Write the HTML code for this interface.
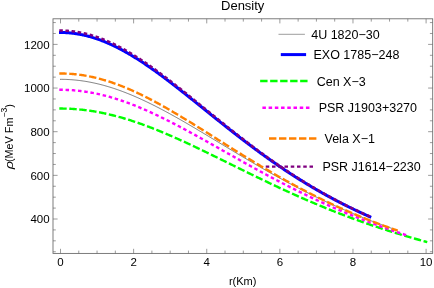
<!DOCTYPE html>
<html><head><meta charset="utf-8"><title>Density</title>
<style>
html,body{margin:0;padding:0;background:#fff;}
body{width:434px;height:288px;overflow:hidden;font-family:"Liberation Sans",sans-serif;}
svg{display:block;}
text{font-family:"Liberation Sans",sans-serif;fill:#000;}
</style></head><body>
<svg style="will-change:transform" width="434" height="288" viewBox="0 0 434 288">
<rect x="0" y="0" width="434" height="288" fill="#ffffff"/>
<g fill="none" stroke-linecap="square" stroke-linejoin="round">
<path d="M60.50 79.32 L61.33 79.32 L62.15 79.33 L62.98 79.34 L63.81 79.36 L64.64 79.38 L65.46 79.40 L66.29 79.43 L67.12 79.46 L67.94 79.50 L68.77 79.55 L69.60 79.59 L70.43 79.65 L71.25 79.70 L72.08 79.76 L72.91 79.83 L73.73 79.90 L74.56 79.97 L75.39 80.05 L76.22 80.14 L77.04 80.22 L77.87 80.32 L78.70 80.41 L79.52 80.51 L80.35 80.62 L81.18 80.73 L82.01 80.84 L82.83 80.96 L83.66 81.08 L84.49 81.21 L85.32 81.34 L86.14 81.48 L86.97 81.62 L87.80 81.76 L88.62 81.91 L89.45 82.07 L90.28 82.22 L91.11 82.39 L91.93 82.55 L92.76 82.72 L93.59 82.90 L94.41 83.08 L95.24 83.26 L96.07 83.45 L96.90 83.64 L97.72 83.83 L98.55 84.03 L99.38 84.23 L100.20 84.44 L101.03 84.65 L101.86 84.87 L102.69 85.09 L103.51 85.31 L104.34 85.54 L105.17 85.77 L105.99 86.00 L106.82 86.24 L107.65 86.49 L108.48 86.73 L109.30 86.98 L110.13 87.24 L110.96 87.49 L111.78 87.76 L112.61 88.02 L113.44 88.29 L114.27 88.56 L115.09 88.84 L115.92 89.12 L116.75 89.40 L117.57 89.69 L118.40 89.98 L119.23 90.28 L120.06 90.57 L120.88 90.88 L121.71 91.18 L122.54 91.49 L123.36 91.80 L124.19 92.11 L125.02 92.43 L125.85 92.75 L126.67 93.08 L127.50 93.41 L128.33 93.74 L129.16 94.07 L129.98 94.41 L130.81 94.75 L131.64 95.09 L132.46 95.44 L133.29 95.79 L134.12 96.14 L134.95 96.50 L135.77 96.86 L136.60 97.22 L137.43 97.58 L138.25 97.95 L139.08 98.32 L139.91 98.69 L140.74 99.07 L141.56 99.45 L142.39 99.83 L143.22 100.21 L144.04 100.60 L144.87 100.99 L145.70 101.38 L146.53 101.77 L147.35 102.17 L148.18 102.57 L149.01 102.97 L149.83 103.38 L150.66 103.78 L151.49 104.19 L152.32 104.60 L153.14 105.02 L153.97 105.43 L154.80 105.85 L155.62 106.27 L156.45 106.69 L157.28 107.12 L158.11 107.54 L158.93 107.97 L159.76 108.40 L160.59 108.83 L161.41 109.27 L162.24 109.71 L163.07 110.14 L163.90 110.58 L164.72 111.03 L165.55 111.47 L166.38 111.92 L167.20 112.36 L168.03 112.81 L168.86 113.26 L169.69 113.72 L170.51 114.17 L171.34 114.63 L172.17 115.08 L173.00 115.54 L173.82 116.00 L174.65 116.46 L175.48 116.93 L176.30 117.39 L177.13 117.86 L177.96 118.33 L178.79 118.79 L179.61 119.26 L180.44 119.74 L181.27 120.21 L182.09 120.68 L182.92 121.16 L183.75 121.63 L184.58 122.11 L185.40 122.59 L186.23 123.07 L187.06 123.55 L187.88 124.03 L188.71 124.51 L189.54 124.99 L190.37 125.48 L191.19 125.96 L192.02 126.45 L192.85 126.94 L193.67 127.42 L194.50 127.91 L195.33 128.40 L196.16 128.89 L196.98 129.38 L197.81 129.87 L198.64 130.36 L199.46 130.86 L200.29 131.35 L201.12 131.84 L201.95 132.34 L202.77 132.83 L203.60 133.33 L204.43 133.82 L205.25 134.32 L206.08 134.81 L206.91 135.31 L207.74 135.81 L208.56 136.30 L209.39 136.80 L210.22 137.30 L211.04 137.80 L211.87 138.30 L212.70 138.79 L213.53 139.29 L214.35 139.79 L215.18 140.29 L216.01 140.79 L216.84 141.29 L217.66 141.79 L218.49 142.29 L219.32 142.79 L220.14 143.29 L220.97 143.79 L221.80 144.29 L222.63 144.78 L223.45 145.28 L224.28 145.78 L225.11 146.28 L225.93 146.78 L226.76 147.28 L227.59 147.78 L228.42 148.28 L229.24 148.77 L230.07 149.27 L230.90 149.77 L231.72 150.27 L232.55 150.76 L233.38 151.26 L234.21 151.75 L235.03 152.25 L235.86 152.75 L236.69 153.24 L237.51 153.74 L238.34 154.23 L239.17 154.72 L240.00 155.22 L240.82 155.71 L241.65 156.20 L242.48 156.69 L243.30 157.18 L244.13 157.68 L244.96 158.17 L245.79 158.65 L246.61 159.14 L247.44 159.63 L248.27 160.12 L249.09 160.61 L249.92 161.09 L250.75 161.58 L251.58 162.06 L252.40 162.55 L253.23 163.03 L254.06 163.51 L254.88 164.00 L255.71 164.48 L256.54 164.96 L257.37 165.44 L258.19 165.92 L259.02 166.40 L259.85 166.87 L260.68 167.35 L261.50 167.83 L262.33 168.30 L263.16 168.77 L263.98 169.25 L264.81 169.72 L265.64 170.19 L266.47 170.66 L267.29 171.13 L268.12 171.60 L268.95 172.07 L269.77 172.53 L270.60 173.00 L271.43 173.46 L272.26 173.93 L273.08 174.39 L273.91 174.85 L274.74 175.31 L275.56 175.77 L276.39 176.23 L277.22 176.69 L278.05 177.15 L278.87 177.60 L279.70 178.06 L280.53 178.51 L281.35 178.96 L282.18 179.42 L283.01 179.87 L283.84 180.31 L284.66 180.76 L285.49 181.21 L286.32 181.66 L287.14 182.10 L287.97 182.54 L288.80 182.99 L289.63 183.43 L290.45 183.87 L291.28 184.31 L292.11 184.75 L292.93 185.18 L293.76 185.62 L294.59 186.05 L295.42 186.49 L296.24 186.92 L297.07 187.35 L297.90 187.78 L298.72 188.21 L299.55 188.63 L300.38 189.06 L301.21 189.48 L302.03 189.91 L302.86 190.33 L303.69 190.75 L304.52 191.17 L305.34 191.59 L306.17 192.01 L307.00 192.42 L307.82 192.84 L308.65 193.25 L309.48 193.67 L310.31 194.08 L311.13 194.49 L311.96 194.90 L312.79 195.30 L313.61 195.71 L314.44 196.11 L315.27 196.52 L316.10 196.92 L316.92 197.32 L317.75 197.72 L318.58 198.12 L319.40 198.52 L320.23 198.91 L321.06 199.31 L321.89 199.70 L322.71 200.09 L323.54 200.48 L324.37 200.87 L325.19 201.26 L326.02 201.65 L326.85 202.03 L327.68 202.42 L328.50 202.80 L329.33 203.18 L330.16 203.57 L330.98 203.94 L331.81 204.32 L332.64 204.70 L333.47 205.07 L334.29 205.45 L335.12 205.82 L335.95 206.19 L336.77 206.56 L337.60 206.93 L338.43 207.30 L339.26 207.67 L340.08 208.03 L340.91 208.40 L341.74 208.76 L342.56 209.12 L343.39 209.48 L344.22 209.84 L345.05 210.20 L345.87 210.55 L346.70 210.91 L347.53 211.26 L348.36 211.61 L349.18 211.96 L350.01 212.31 L350.84 212.66 L351.66 213.01 L352.49 213.35 L353.32 213.70 L354.15 214.04 L354.97 214.38 L355.80 214.72 L356.63 215.06 L357.45 215.40 L358.28 215.74 L359.11 216.07 L359.94 216.41 L360.76 216.74 L361.59 217.07 L362.42 217.40 L363.24 217.73 L364.07 218.06 L364.90 218.39 L365.73 218.71 L366.55 219.04 L367.38 219.36 L368.21 219.68 L369.03 220.00 L369.86 220.32 L370.69 220.64 L371.52 220.96 L372.34 221.28 L373.17 221.59 L374.00 221.90 L374.82 222.21 L375.65 222.53 L376.48 222.84 L377.31 223.14 L378.13 223.45 L378.96 223.76 L379.79 224.06 L380.61 224.37 L381.44 224.67 L382.27 224.97 L383.10 225.27 L383.92 225.57 L384.75 225.87 L385.58 226.16 L386.40 226.46 L387.23 226.75 L388.06 227.04 L388.89 227.34 L389.71 227.63 L390.54 227.92 L391.37 228.20" stroke="#404040" stroke-width="0.7"/>
<path d="M60.50 32.51 L61.27 32.51 L62.05 32.52 L62.82 32.53 L63.59 32.55 L64.37 32.58 L65.14 32.61 L65.91 32.65 L66.69 32.69 L67.46 32.74 L68.23 32.80 L69.01 32.86 L69.78 32.93 L70.55 33.00 L71.33 33.08 L72.10 33.16 L72.87 33.25 L73.65 33.35 L74.42 33.45 L75.19 33.56 L75.96 33.67 L76.74 33.79 L77.51 33.91 L78.28 34.04 L79.06 34.18 L79.83 34.32 L80.60 34.47 L81.38 34.62 L82.15 34.78 L82.92 34.95 L83.70 35.12 L84.47 35.29 L85.24 35.47 L86.02 35.66 L86.79 35.85 L87.56 36.05 L88.34 36.25 L89.11 36.46 L89.88 36.67 L90.66 36.89 L91.43 37.12 L92.20 37.35 L92.98 37.58 L93.75 37.82 L94.52 38.07 L95.30 38.32 L96.07 38.58 L96.84 38.84 L97.62 39.10 L98.39 39.38 L99.16 39.65 L99.94 39.93 L100.71 40.22 L101.48 40.51 L102.26 40.81 L103.03 41.11 L103.80 41.42 L104.57 41.73 L105.35 42.05 L106.12 42.37 L106.89 42.70 L107.67 43.03 L108.44 43.37 L109.21 43.71 L109.99 44.05 L110.76 44.40 L111.53 44.76 L112.31 45.12 L113.08 45.48 L113.85 45.85 L114.63 46.22 L115.40 46.60 L116.17 46.98 L116.95 47.37 L117.72 47.76 L118.49 48.15 L119.27 48.55 L120.04 48.96 L120.81 49.37 L121.59 49.78 L122.36 50.19 L123.13 50.61 L123.91 51.04 L124.68 51.47 L125.45 51.90 L126.23 52.33 L127.00 52.77 L127.77 53.22 L128.55 53.66 L129.32 54.12 L130.09 54.57 L130.87 55.03 L131.64 55.49 L132.41 55.96 L133.18 56.43 L133.96 56.90 L134.73 57.38 L135.50 57.86 L136.28 58.34 L137.05 58.82 L137.82 59.31 L138.60 59.81 L139.37 60.30 L140.14 60.80 L140.92 61.31 L141.69 61.81 L142.46 62.32 L143.24 62.83 L144.01 63.35 L144.78 63.87 L145.56 64.39 L146.33 64.91 L147.10 65.44 L147.88 65.96 L148.65 66.50 L149.42 67.03 L150.20 67.57 L150.97 68.11 L151.74 68.65 L152.52 69.19 L153.29 69.74 L154.06 70.29 L154.84 70.84 L155.61 71.40 L156.38 71.95 L157.16 72.51 L157.93 73.07 L158.70 73.64 L159.48 74.20 L160.25 74.77 L161.02 75.34 L161.79 75.91 L162.57 76.48 L163.34 77.06 L164.11 77.64 L164.89 78.21 L165.66 78.80 L166.43 79.38 L167.21 79.96 L167.98 80.55 L168.75 81.14 L169.53 81.72 L170.30 82.32 L171.07 82.91 L171.85 83.50 L172.62 84.10 L173.39 84.69 L174.17 85.29 L174.94 85.89 L175.71 86.49 L176.49 87.09 L177.26 87.70 L178.03 88.30 L178.81 88.91 L179.58 89.51 L180.35 90.12 L181.13 90.73 L181.90 91.34 L182.67 91.95 L183.45 92.56 L184.22 93.17 L184.99 93.78 L185.77 94.40 L186.54 95.01 L187.31 95.63 L188.09 96.24 L188.86 96.86 L189.63 97.48 L190.40 98.09 L191.18 98.71 L191.95 99.33 L192.72 99.95 L193.50 100.57 L194.27 101.19 L195.04 101.81 L195.82 102.43 L196.59 103.05 L197.36 103.68 L198.14 104.30 L198.91 104.92 L199.68 105.54 L200.46 106.17 L201.23 106.79 L202.00 107.41 L202.78 108.03 L203.55 108.66 L204.32 109.28 L205.10 109.90 L205.87 110.53 L206.64 111.15 L207.42 111.77 L208.19 112.39 L208.96 113.02 L209.74 113.64 L210.51 114.26 L211.28 114.88 L212.06 115.50 L212.83 116.12 L213.60 116.75 L214.38 117.37 L215.15 117.99 L215.92 118.61 L216.70 119.23 L217.47 119.84 L218.24 120.46 L219.02 121.08 L219.79 121.70 L220.56 122.32 L221.33 122.93 L222.11 123.55 L222.88 124.16 L223.65 124.78 L224.43 125.39 L225.20 126.00 L225.97 126.62 L226.75 127.23 L227.52 127.84 L228.29 128.45 L229.07 129.06 L229.84 129.67 L230.61 130.28 L231.39 130.88 L232.16 131.49 L232.93 132.10 L233.71 132.70 L234.48 133.30 L235.25 133.91 L236.03 134.51 L236.80 135.11 L237.57 135.71 L238.35 136.31 L239.12 136.90 L239.89 137.50 L240.67 138.10 L241.44 138.69 L242.21 139.28 L242.99 139.88 L243.76 140.47 L244.53 141.06 L245.31 141.65 L246.08 142.24 L246.85 142.82 L247.63 143.41 L248.40 143.99 L249.17 144.57 L249.94 145.16 L250.72 145.74 L251.49 146.32 L252.26 146.89 L253.04 147.47 L253.81 148.05 L254.58 148.62 L255.36 149.19 L256.13 149.77 L256.90 150.34 L257.68 150.90 L258.45 151.47 L259.22 152.04 L260.00 152.60 L260.77 153.17 L261.54 153.73 L262.32 154.29 L263.09 154.85 L263.86 155.41 L264.64 155.96 L265.41 156.52 L266.18 157.07 L266.96 157.62 L267.73 158.17 L268.50 158.72 L269.28 159.27 L270.05 159.81 L270.82 160.36 L271.60 160.90 L272.37 161.44 L273.14 161.98 L273.92 162.52 L274.69 163.06 L275.46 163.59 L276.24 164.13 L277.01 164.66 L277.78 165.19 L278.55 165.72 L279.33 166.25 L280.10 166.77 L280.87 167.30 L281.65 167.82 L282.42 168.34 L283.19 168.86 L283.97 169.38 L284.74 169.89 L285.51 170.41 L286.29 170.92 L287.06 171.43 L287.83 171.94 L288.61 172.45 L289.38 172.96 L290.15 173.46 L290.93 173.97 L291.70 174.47 L292.47 174.97 L293.25 175.47 L294.02 175.96 L294.79 176.46 L295.57 176.95 L296.34 177.44 L297.11 177.93 L297.89 178.42 L298.66 178.91 L299.43 179.39 L300.21 179.88 L300.98 180.36 L301.75 180.84 L302.53 181.32 L303.30 181.80 L304.07 182.27 L304.85 182.74 L305.62 183.22 L306.39 183.69 L307.16 184.15 L307.94 184.62 L308.71 185.09 L309.48 185.55 L310.26 186.01 L311.03 186.47 L311.80 186.93 L312.58 187.39 L313.35 187.84 L314.12 188.30 L314.90 188.75 L315.67 189.20 L316.44 189.65 L317.22 190.09 L317.99 190.54 L318.76 190.98 L319.54 191.42 L320.31 191.86 L321.08 192.30 L321.86 192.74 L322.63 193.18 L323.40 193.61 L324.18 194.04 L324.95 194.47 L325.72 194.90 L326.50 195.33 L327.27 195.75 L328.04 196.18 L328.82 196.60 L329.59 197.02 L330.36 197.44 L331.14 197.86 L331.91 198.27 L332.68 198.69 L333.46 199.10 L334.23 199.51 L335.00 199.92 L335.77 200.33 L336.55 200.73 L337.32 201.14 L338.09 201.54 L338.87 201.94 L339.64 202.34 L340.41 202.74 L341.19 203.13 L341.96 203.53 L342.73 203.92 L343.51 204.31 L344.28 204.70 L345.05 205.09 L345.83 205.48 L346.60 205.86 L347.37 206.25 L348.15 206.63 L348.92 207.01 L349.69 207.39 L350.47 207.77 L351.24 208.14 L352.01 208.52 L352.79 208.89 L353.56 209.26 L354.33 209.63 L355.11 210.00 L355.88 210.37 L356.65 210.73 L357.43 211.09 L358.20 211.46 L358.97 211.82 L359.75 212.18 L360.52 212.53 L361.29 212.89 L362.07 213.25 L362.84 213.60 L363.61 213.95 L364.38 214.30 L365.16 214.65 L365.93 215.00 L366.70 215.34 L367.48 215.69 L368.25 216.03 L369.02 216.37 L369.80 216.71" stroke="#0000ff" stroke-width="3.0"/>
<path d="M60.50 108.57 L61.41 108.57 L62.33 108.57 L63.24 108.58 L64.16 108.60 L65.07 108.62 L65.98 108.64 L66.90 108.67 L67.81 108.70 L68.73 108.74 L69.64 108.78 L70.55 108.82 L71.47 108.87 L72.38 108.92 L73.30 108.98 L74.21 109.04 L75.12 109.11 L76.04 109.18 L76.95 109.25 L77.87 109.33 L78.78 109.41 L79.69 109.50 L80.61 109.59 L81.52 109.68 L82.44 109.78 L83.35 109.88 L84.26 109.99 L85.18 110.10 L86.09 110.21 L87.01 110.33 L87.92 110.46 L88.83 110.58 L89.75 110.71 L90.66 110.85 L91.58 110.99 L92.49 111.13 L93.40 111.28 L94.32 111.43 L95.23 111.58 L96.15 111.74 L97.06 111.91 L97.97 112.07 L98.89 112.24 L99.80 112.42 L100.72 112.59 L101.63 112.78 L102.54 112.96 L103.46 113.15 L104.37 113.34 L105.29 113.54 L106.20 113.74 L107.11 113.95 L108.03 114.15 L108.94 114.37 L109.86 114.58 L110.77 114.80 L111.68 115.02 L112.60 115.25 L113.51 115.48 L114.43 115.71 L115.34 115.95 L116.25 116.19 L117.17 116.43 L118.08 116.68 L119.00 116.93 L119.91 117.18 L120.82 117.44 L121.74 117.70 L122.65 117.96 L123.57 118.23 L124.48 118.50 L125.39 118.77 L126.31 119.05 L127.22 119.33 L128.14 119.61 L129.05 119.90 L129.96 120.19 L130.88 120.48 L131.79 120.78 L132.71 121.07 L133.62 121.38 L134.53 121.68 L135.45 121.99 L136.36 122.30 L137.28 122.61 L138.19 122.93 L139.10 123.24 L140.02 123.57 L140.93 123.89 L141.85 124.22 L142.76 124.55 L143.67 124.88 L144.59 125.21 L145.50 125.55 L146.42 125.89 L147.33 126.23 L148.24 126.58 L149.16 126.92 L150.07 127.27 L150.99 127.63 L151.90 127.98 L152.81 128.34 L153.73 128.70 L154.64 129.06 L155.56 129.42 L156.47 129.79 L157.38 130.16 L158.30 130.53 L159.21 130.90 L160.13 131.28 L161.04 131.65 L161.95 132.03 L162.87 132.41 L163.78 132.79 L164.70 133.18 L165.61 133.57 L166.52 133.96 L167.44 134.35 L168.35 134.74 L169.27 135.13 L170.18 135.53 L171.09 135.93 L172.01 136.33 L172.92 136.73 L173.84 137.13 L174.75 137.53 L175.66 137.94 L176.58 138.35 L177.49 138.76 L178.41 139.17 L179.32 139.58 L180.23 139.99 L181.15 140.41 L182.06 140.83 L182.98 141.24 L183.89 141.66 L184.80 142.08 L185.72 142.50 L186.63 142.93 L187.55 143.35 L188.46 143.78 L189.37 144.20 L190.29 144.63 L191.20 145.06 L192.12 145.49 L193.03 145.92 L193.94 146.35 L194.86 146.78 L195.77 147.22 L196.69 147.65 L197.60 148.09 L198.51 148.52 L199.43 148.96 L200.34 149.40 L201.26 149.84 L202.17 150.28 L203.08 150.72 L204.00 151.16 L204.91 151.60 L205.83 152.04 L206.74 152.48 L207.65 152.93 L208.57 153.37 L209.48 153.82 L210.40 154.26 L211.31 154.71 L212.22 155.15 L213.14 155.60 L214.05 156.05 L214.97 156.49 L215.88 156.94 L216.79 157.39 L217.71 157.84 L218.62 158.29 L219.54 158.74 L220.45 159.19 L221.36 159.64 L222.28 160.09 L223.19 160.54 L224.11 160.99 L225.02 161.44 L225.93 161.89 L226.85 162.34 L227.76 162.79 L228.68 163.24 L229.59 163.69 L230.50 164.14 L231.42 164.59 L232.33 165.04 L233.25 165.49 L234.16 165.94 L235.07 166.39 L235.99 166.84 L236.90 167.29 L237.82 167.74 L238.73 168.19 L239.64 168.64 L240.56 169.09 L241.47 169.54 L242.39 169.99 L243.30 170.43 L244.21 170.88 L245.13 171.33 L246.04 171.78 L246.96 172.23 L247.87 172.67 L248.78 173.12 L249.70 173.57 L250.61 174.01 L251.53 174.46 L252.44 174.90 L253.35 175.35 L254.27 175.79 L255.18 176.23 L256.10 176.68 L257.01 177.12 L257.92 177.56 L258.84 178.00 L259.75 178.44 L260.67 178.88 L261.58 179.32 L262.49 179.76 L263.41 180.20 L264.32 180.64 L265.24 181.07 L266.15 181.51 L267.06 181.95 L267.98 182.38 L268.89 182.81 L269.81 183.25 L270.72 183.68 L271.63 184.11 L272.55 184.54 L273.46 184.97 L274.38 185.40 L275.29 185.83 L276.20 186.26 L277.12 186.69 L278.03 187.12 L278.95 187.54 L279.86 187.97 L280.77 188.39 L281.69 188.81 L282.60 189.24 L283.52 189.66 L284.43 190.08 L285.34 190.50 L286.26 190.92 L287.17 191.33 L288.09 191.75 L289.00 192.17 L289.91 192.58 L290.83 193.00 L291.74 193.41 L292.66 193.82 L293.57 194.23 L294.48 194.64 L295.40 195.05 L296.31 195.46 L297.23 195.87 L298.14 196.27 L299.05 196.68 L299.97 197.08 L300.88 197.48 L301.80 197.89 L302.71 198.29 L303.62 198.69 L304.54 199.08 L305.45 199.48 L306.37 199.88 L307.28 200.27 L308.19 200.67 L309.11 201.06 L310.02 201.45 L310.94 201.85 L311.85 202.24 L312.76 202.62 L313.68 203.01 L314.59 203.40 L315.51 203.78 L316.42 204.17 L317.33 204.55 L318.25 204.93 L319.16 205.32 L320.08 205.70 L320.99 206.07 L321.90 206.45 L322.82 206.83 L323.73 207.20 L324.65 207.58 L325.56 207.95 L326.47 208.32 L327.39 208.69 L328.30 209.06 L329.22 209.43 L330.13 209.80 L331.04 210.16 L331.96 210.53 L332.87 210.89 L333.79 211.25 L334.70 211.62 L335.61 211.98 L336.53 212.33 L337.44 212.69 L338.36 213.05 L339.27 213.40 L340.18 213.76 L341.10 214.11 L342.01 214.46 L342.93 214.81 L343.84 215.16 L344.75 215.51 L345.67 215.86 L346.58 216.20 L347.50 216.55 L348.41 216.89 L349.32 217.23 L350.24 217.57 L351.15 217.91 L352.07 218.25 L352.98 218.59 L353.89 218.92 L354.81 219.26 L355.72 219.59 L356.64 219.92 L357.55 220.25 L358.46 220.58 L359.38 220.91 L360.29 221.24 L361.21 221.57 L362.12 221.89 L363.03 222.21 L363.95 222.54 L364.86 222.86 L365.78 223.18 L366.69 223.50 L367.60 223.82 L368.52 224.13 L369.43 224.45 L370.35 224.76 L371.26 225.08 L372.17 225.39 L373.09 225.70 L374.00 226.01 L374.92 226.32 L375.83 226.62 L376.74 226.93 L377.66 227.23 L378.57 227.54 L379.49 227.84 L380.40 228.14 L381.31 228.44 L382.23 228.74 L383.14 229.04 L384.06 229.33 L384.97 229.63 L385.88 229.92 L386.80 230.22 L387.71 230.51 L388.63 230.80 L389.54 231.09 L390.45 231.38 L391.37 231.66 L392.28 231.95 L393.20 232.23 L394.11 232.52 L395.02 232.80 L395.94 233.08 L396.85 233.36 L397.77 233.64 L398.68 233.92 L399.59 234.20 L400.51 234.47 L401.42 234.75 L402.34 235.02 L403.25 235.29 L404.16 235.56 L405.08 235.83 L405.99 236.10 L406.91 236.37 L407.82 236.64 L408.73 236.90 L409.65 237.17 L410.56 237.43 L411.48 237.69 L412.39 237.96 L413.30 238.22 L414.22 238.48 L415.13 238.73 L416.05 238.99 L416.96 239.25 L417.87 239.50 L418.79 239.75 L419.70 240.01 L420.62 240.26 L421.53 240.51 L422.44 240.76 L423.36 241.01 L424.27 241.26 L425.19 241.50 L426.10 241.75" stroke="#00ff00" stroke-width="2.4" stroke-dasharray="5.000 4.999"/>
<path d="M60.50 89.80 L61.36 89.80 L62.23 89.81 L63.09 89.82 L63.96 89.83 L64.82 89.85 L65.69 89.88 L66.55 89.91 L67.42 89.94 L68.28 89.98 L69.15 90.02 L70.01 90.07 L70.88 90.12 L71.74 90.18 L72.61 90.24 L73.47 90.31 L74.33 90.38 L75.20 90.45 L76.06 90.53 L76.93 90.61 L77.79 90.70 L78.66 90.79 L79.52 90.89 L80.39 90.99 L81.25 91.10 L82.12 91.21 L82.98 91.32 L83.85 91.44 L84.71 91.56 L85.57 91.69 L86.44 91.82 L87.30 91.96 L88.17 92.10 L89.03 92.25 L89.90 92.39 L90.76 92.55 L91.63 92.71 L92.49 92.87 L93.36 93.03 L94.22 93.20 L95.09 93.38 L95.95 93.56 L96.82 93.74 L97.68 93.93 L98.54 94.12 L99.41 94.31 L100.27 94.51 L101.14 94.72 L102.00 94.92 L102.87 95.13 L103.73 95.35 L104.60 95.57 L105.46 95.79 L106.33 96.02 L107.19 96.25 L108.06 96.49 L108.92 96.72 L109.78 96.97 L110.65 97.21 L111.51 97.46 L112.38 97.72 L113.24 97.98 L114.11 98.24 L114.97 98.50 L115.84 98.77 L116.70 99.04 L117.57 99.32 L118.43 99.60 L119.30 99.88 L120.16 100.17 L121.03 100.46 L121.89 100.75 L122.75 101.05 L123.62 101.35 L124.48 101.66 L125.35 101.96 L126.21 102.27 L127.08 102.59 L127.94 102.90 L128.81 103.22 L129.67 103.55 L130.54 103.88 L131.40 104.21 L132.27 104.54 L133.13 104.88 L133.99 105.21 L134.86 105.56 L135.72 105.90 L136.59 106.25 L137.45 106.60 L138.32 106.96 L139.18 107.31 L140.05 107.67 L140.91 108.04 L141.78 108.40 L142.64 108.77 L143.51 109.14 L144.37 109.51 L145.24 109.89 L146.10 110.27 L146.96 110.65 L147.83 111.04 L148.69 111.42 L149.56 111.81 L150.42 112.20 L151.29 112.60 L152.15 112.99 L153.02 113.39 L153.88 113.79 L154.75 114.20 L155.61 114.60 L156.48 115.01 L157.34 115.42 L158.20 115.83 L159.07 116.25 L159.93 116.67 L160.80 117.08 L161.66 117.51 L162.53 117.93 L163.39 118.35 L164.26 118.78 L165.12 119.21 L165.99 119.64 L166.85 120.07 L167.72 120.51 L168.58 120.94 L169.45 121.38 L170.31 121.82 L171.17 122.26 L172.04 122.70 L172.90 123.15 L173.77 123.59 L174.63 124.04 L175.50 124.49 L176.36 124.94 L177.23 125.39 L178.09 125.85 L178.96 126.30 L179.82 126.76 L180.69 127.22 L181.55 127.67 L182.41 128.13 L183.28 128.60 L184.14 129.06 L185.01 129.52 L185.87 129.99 L186.74 130.45 L187.60 130.92 L188.47 131.39 L189.33 131.86 L190.20 132.33 L191.06 132.80 L191.93 133.27 L192.79 133.75 L193.66 134.22 L194.52 134.70 L195.38 135.17 L196.25 135.65 L197.11 136.13 L197.98 136.60 L198.84 137.08 L199.71 137.56 L200.57 138.04 L201.44 138.52 L202.30 139.00 L203.17 139.49 L204.03 139.97 L204.90 140.45 L205.76 140.94 L206.62 141.42 L207.49 141.90 L208.35 142.39 L209.22 142.88 L210.08 143.36 L210.95 143.85 L211.81 144.33 L212.68 144.82 L213.54 145.31 L214.41 145.79 L215.27 146.28 L216.14 146.77 L217.00 147.26 L217.87 147.75 L218.73 148.23 L219.59 148.72 L220.46 149.21 L221.32 149.70 L222.19 150.19 L223.05 150.68 L223.92 151.16 L224.78 151.65 L225.65 152.14 L226.51 152.63 L227.38 153.12 L228.24 153.60 L229.11 154.09 L229.97 154.58 L230.83 155.07 L231.70 155.56 L232.56 156.04 L233.43 156.53 L234.29 157.02 L235.16 157.50 L236.02 157.99 L236.89 158.47 L237.75 158.96 L238.62 159.44 L239.48 159.93 L240.35 160.41 L241.21 160.90 L242.08 161.38 L242.94 161.86 L243.80 162.35 L244.67 162.83 L245.53 163.31 L246.40 163.79 L247.26 164.27 L248.13 164.75 L248.99 165.23 L249.86 165.71 L250.72 166.19 L251.59 166.66 L252.45 167.14 L253.32 167.62 L254.18 168.09 L255.04 168.57 L255.91 169.04 L256.77 169.52 L257.64 169.99 L258.50 170.46 L259.37 170.93 L260.23 171.40 L261.10 171.87 L261.96 172.34 L262.83 172.81 L263.69 173.28 L264.56 173.75 L265.42 174.21 L266.29 174.68 L267.15 175.14 L268.01 175.60 L268.88 176.07 L269.74 176.53 L270.61 176.99 L271.47 177.45 L272.34 177.91 L273.20 178.37 L274.07 178.82 L274.93 179.28 L275.80 179.73 L276.66 180.19 L277.53 180.64 L278.39 181.09 L279.25 181.54 L280.12 181.99 L280.98 182.44 L281.85 182.89 L282.71 183.34 L283.58 183.79 L284.44 184.23 L285.31 184.67 L286.17 185.12 L287.04 185.56 L287.90 186.00 L288.77 186.44 L289.63 186.88 L290.50 187.32 L291.36 187.75 L292.22 188.19 L293.09 188.62 L293.95 189.06 L294.82 189.49 L295.68 189.92 L296.55 190.35 L297.41 190.78 L298.28 191.21 L299.14 191.63 L300.01 192.06 L300.87 192.48 L301.74 192.90 L302.60 193.33 L303.46 193.75 L304.33 194.17 L305.19 194.58 L306.06 195.00 L306.92 195.42 L307.79 195.83 L308.65 196.24 L309.52 196.66 L310.38 197.07 L311.25 197.48 L312.11 197.89 L312.98 198.29 L313.84 198.70 L314.71 199.10 L315.57 199.51 L316.43 199.91 L317.30 200.31 L318.16 200.71 L319.03 201.11 L319.89 201.51 L320.76 201.91 L321.62 202.30 L322.49 202.69 L323.35 203.09 L324.22 203.48 L325.08 203.87 L325.95 204.26 L326.81 204.65 L327.67 205.03 L328.54 205.42 L329.40 205.80 L330.27 206.18 L331.13 206.57 L332.00 206.95 L332.86 207.32 L333.73 207.70 L334.59 208.08 L335.46 208.45 L336.32 208.83 L337.19 209.20 L338.05 209.57 L338.92 209.94 L339.78 210.31 L340.64 210.68 L341.51 211.05 L342.37 211.41 L343.24 211.78 L344.10 212.14 L344.97 212.50 L345.83 212.86 L346.70 213.22 L347.56 213.58 L348.43 213.93 L349.29 214.29 L350.16 214.64 L351.02 215.00 L351.89 215.35 L352.75 215.70 L353.61 216.05 L354.48 216.40 L355.34 216.74 L356.21 217.09 L357.07 217.43 L357.94 217.78 L358.80 218.12 L359.67 218.46 L360.53 218.80 L361.40 219.14 L362.26 219.48 L363.13 219.81 L363.99 220.15 L364.85 220.48 L365.72 220.81 L366.58 221.14 L367.45 221.47 L368.31 221.80 L369.18 222.13 L370.04 222.46 L370.91 222.78 L371.77 223.11 L372.64 223.43 L373.50 223.75 L374.37 224.07 L375.23 224.39 L376.10 224.71 L376.96 225.03 L377.82 225.34 L378.69 225.66 L379.55 225.97 L380.42 226.28 L381.28 226.59 L382.15 226.91 L383.01 227.21 L383.88 227.52 L384.74 227.83 L385.61 228.14 L386.47 228.44 L387.34 228.74 L388.20 229.05 L389.06 229.35 L389.93 229.65 L390.79 229.95 L391.66 230.25 L392.52 230.54 L393.39 230.84 L394.25 231.13 L395.12 231.43 L395.98 231.72 L396.85 232.01 L397.71 232.30 L398.58 232.59 L399.44 232.88 L400.31 233.17 L401.17 233.45 L402.03 233.74 L402.90 234.02 L403.76 234.31 L404.63 234.59 L405.49 234.87 L406.36 235.15" stroke="#ff00ff" stroke-width="2.4" stroke-dasharray="1.100 5.156"/>
<path d="M60.50 73.49 L61.34 73.50 L62.18 73.50 L63.02 73.52 L63.86 73.53 L64.70 73.55 L65.54 73.58 L66.38 73.61 L67.22 73.65 L68.06 73.69 L68.90 73.74 L69.74 73.79 L70.58 73.85 L71.42 73.91 L72.26 73.98 L73.10 74.05 L73.94 74.13 L74.78 74.21 L75.62 74.30 L76.46 74.39 L77.30 74.49 L78.15 74.59 L78.99 74.69 L79.83 74.80 L80.67 74.92 L81.51 75.04 L82.35 75.17 L83.19 75.30 L84.03 75.43 L84.87 75.57 L85.71 75.72 L86.55 75.87 L87.39 76.02 L88.23 76.18 L89.07 76.34 L89.91 76.51 L90.75 76.68 L91.59 76.86 L92.43 77.04 L93.27 77.23 L94.11 77.42 L94.95 77.62 L95.79 77.82 L96.63 78.02 L97.47 78.23 L98.31 78.44 L99.15 78.66 L99.99 78.89 L100.83 79.11 L101.67 79.34 L102.51 79.58 L103.35 79.82 L104.19 80.07 L105.03 80.31 L105.87 80.57 L106.71 80.83 L107.55 81.09 L108.39 81.35 L109.23 81.62 L110.07 81.90 L110.91 82.18 L111.75 82.46 L112.59 82.74 L113.44 83.03 L114.28 83.33 L115.12 83.63 L115.96 83.93 L116.80 84.24 L117.64 84.55 L118.48 84.86 L119.32 85.18 L120.16 85.50 L121.00 85.82 L121.84 86.15 L122.68 86.49 L123.52 86.82 L124.36 87.16 L125.20 87.51 L126.04 87.85 L126.88 88.20 L127.72 88.56 L128.56 88.92 L129.40 89.28 L130.24 89.64 L131.08 90.01 L131.92 90.38 L132.76 90.76 L133.60 91.13 L134.44 91.52 L135.28 91.90 L136.12 92.29 L136.96 92.68 L137.80 93.07 L138.64 93.47 L139.48 93.87 L140.32 94.27 L141.16 94.68 L142.00 95.08 L142.84 95.50 L143.68 95.91 L144.52 96.33 L145.36 96.75 L146.20 97.17 L147.04 97.60 L147.88 98.02 L148.73 98.45 L149.57 98.89 L150.41 99.32 L151.25 99.76 L152.09 100.20 L152.93 100.65 L153.77 101.09 L154.61 101.54 L155.45 101.99 L156.29 102.44 L157.13 102.90 L157.97 103.36 L158.81 103.81 L159.65 104.28 L160.49 104.74 L161.33 105.21 L162.17 105.67 L163.01 106.14 L163.85 106.62 L164.69 107.09 L165.53 107.57 L166.37 108.04 L167.21 108.52 L168.05 109.00 L168.89 109.49 L169.73 109.97 L170.57 110.46 L171.41 110.95 L172.25 111.44 L173.09 111.93 L173.93 112.42 L174.77 112.92 L175.61 113.41 L176.45 113.91 L177.29 114.41 L178.13 114.91 L178.97 115.41 L179.81 115.91 L180.65 116.42 L181.49 116.92 L182.33 117.43 L183.18 117.94 L184.02 118.45 L184.86 118.96 L185.70 119.47 L186.54 119.98 L187.38 120.49 L188.22 121.01 L189.06 121.52 L189.90 122.04 L190.74 122.56 L191.58 123.07 L192.42 123.59 L193.26 124.11 L194.10 124.63 L194.94 125.15 L195.78 125.68 L196.62 126.20 L197.46 126.72 L198.30 127.24 L199.14 127.77 L199.98 128.29 L200.82 128.82 L201.66 129.35 L202.50 129.87 L203.34 130.40 L204.18 130.93 L205.02 131.45 L205.86 131.98 L206.70 132.51 L207.54 133.04 L208.38 133.57 L209.22 134.10 L210.06 134.63 L210.90 135.16 L211.74 135.69 L212.58 136.21 L213.42 136.74 L214.26 137.27 L215.10 137.80 L215.94 138.34 L216.78 138.87 L217.62 139.40 L218.47 139.93 L219.31 140.46 L220.15 140.99 L220.99 141.52 L221.83 142.04 L222.67 142.57 L223.51 143.10 L224.35 143.63 L225.19 144.16 L226.03 144.69 L226.87 145.22 L227.71 145.75 L228.55 146.27 L229.39 146.80 L230.23 147.33 L231.07 147.86 L231.91 148.38 L232.75 148.91 L233.59 149.43 L234.43 149.96 L235.27 150.48 L236.11 151.01 L236.95 151.53 L237.79 152.05 L238.63 152.58 L239.47 153.10 L240.31 153.62 L241.15 154.14 L241.99 154.66 L242.83 155.18 L243.67 155.70 L244.51 156.22 L245.35 156.73 L246.19 157.25 L247.03 157.77 L247.87 158.28 L248.71 158.79 L249.55 159.31 L250.39 159.82 L251.23 160.33 L252.07 160.84 L252.92 161.35 L253.76 161.86 L254.60 162.37 L255.44 162.88 L256.28 163.39 L257.12 163.89 L257.96 164.40 L258.80 164.90 L259.64 165.40 L260.48 165.91 L261.32 166.41 L262.16 166.91 L263.00 167.41 L263.84 167.90 L264.68 168.40 L265.52 168.90 L266.36 169.39 L267.20 169.89 L268.04 170.38 L268.88 170.87 L269.72 171.36 L270.56 171.85 L271.40 172.34 L272.24 172.83 L273.08 173.31 L273.92 173.80 L274.76 174.28 L275.60 174.76 L276.44 175.25 L277.28 175.73 L278.12 176.21 L278.96 176.68 L279.80 177.16 L280.64 177.64 L281.48 178.11 L282.32 178.58 L283.16 179.06 L284.00 179.53 L284.84 180.00 L285.68 180.46 L286.52 180.93 L287.36 181.40 L288.21 181.86 L289.05 182.32 L289.89 182.79 L290.73 183.25 L291.57 183.70 L292.41 184.16 L293.25 184.62 L294.09 185.07 L294.93 185.53 L295.77 185.98 L296.61 186.43 L297.45 186.88 L298.29 187.33 L299.13 187.78 L299.97 188.22 L300.81 188.67 L301.65 189.11 L302.49 189.55 L303.33 189.99 L304.17 190.43 L305.01 190.87 L305.85 191.31 L306.69 191.74 L307.53 192.17 L308.37 192.61 L309.21 193.04 L310.05 193.47 L310.89 193.90 L311.73 194.32 L312.57 194.75 L313.41 195.17 L314.25 195.59 L315.09 196.01 L315.93 196.43 L316.77 196.85 L317.61 197.27 L318.45 197.68 L319.29 198.10 L320.13 198.51 L320.97 198.92 L321.81 199.33 L322.65 199.74 L323.50 200.15 L324.34 200.55 L325.18 200.96 L326.02 201.36 L326.86 201.76 L327.70 202.16 L328.54 202.56 L329.38 202.95 L330.22 203.35 L331.06 203.74 L331.90 204.14 L332.74 204.53 L333.58 204.92 L334.42 205.31 L335.26 205.69 L336.10 206.08 L336.94 206.46 L337.78 206.85 L338.62 207.23 L339.46 207.61 L340.30 207.99 L341.14 208.36 L341.98 208.74 L342.82 209.11 L343.66 209.49 L344.50 209.86 L345.34 210.23 L346.18 210.60 L347.02 210.96 L347.86 211.33 L348.70 211.69 L349.54 212.06 L350.38 212.42 L351.22 212.78 L352.06 213.14 L352.90 213.49 L353.74 213.85 L354.58 214.20 L355.42 214.56 L356.26 214.91 L357.10 215.26 L357.95 215.61 L358.79 215.96 L359.63 216.30 L360.47 216.65 L361.31 216.99 L362.15 217.33 L362.99 217.68 L363.83 218.02 L364.67 218.35 L365.51 218.69 L366.35 219.03 L367.19 219.36 L368.03 219.69 L368.87 220.02 L369.71 220.35 L370.55 220.68 L371.39 221.01 L372.23 221.34 L373.07 221.66 L373.91 221.99 L374.75 222.31 L375.59 222.63 L376.43 222.95 L377.27 223.27 L378.11 223.58 L378.95 223.90 L379.79 224.21 L380.63 224.53 L381.47 224.84 L382.31 225.15 L383.15 225.46 L383.99 225.76 L384.83 226.07 L385.67 226.38 L386.51 226.68 L387.35 226.98 L388.19 227.28 L389.03 227.59 L389.87 227.88 L390.71 228.18 L391.55 228.48 L392.39 228.77 L393.24 229.07 L394.08 229.36 L394.92 229.65 L395.76 229.94 L396.60 230.23" stroke="#ff8000" stroke-width="2.4" stroke-dasharray="5.000 5.002"/>
<path d="M60.50 30.54 L61.27 30.54 L62.05 30.55 L62.82 30.57 L63.59 30.59 L64.37 30.62 L65.14 30.65 L65.91 30.69 L66.69 30.73 L67.46 30.78 L68.23 30.84 L69.01 30.90 L69.78 30.97 L70.55 31.04 L71.33 31.12 L72.10 31.21 L72.87 31.30 L73.65 31.39 L74.42 31.50 L75.19 31.61 L75.96 31.72 L76.74 31.84 L77.51 31.97 L78.28 32.10 L79.06 32.24 L79.83 32.38 L80.60 32.53 L81.38 32.69 L82.15 32.85 L82.92 33.01 L83.70 33.18 L84.47 33.36 L85.24 33.54 L86.02 33.73 L86.79 33.93 L87.56 34.13 L88.34 34.33 L89.11 34.54 L89.88 34.76 L90.66 34.98 L91.43 35.21 L92.20 35.44 L92.98 35.68 L93.75 35.93 L94.52 36.17 L95.30 36.43 L96.07 36.69 L96.84 36.95 L97.62 37.22 L98.39 37.50 L99.16 37.78 L99.94 38.06 L100.71 38.36 L101.48 38.65 L102.26 38.95 L103.03 39.26 L103.80 39.57 L104.57 39.89 L105.35 40.21 L106.12 40.53 L106.89 40.86 L107.67 41.20 L108.44 41.54 L109.21 41.88 L109.99 42.23 L110.76 42.59 L111.53 42.95 L112.31 43.31 L113.08 43.68 L113.85 44.05 L114.63 44.43 L115.40 44.81 L116.17 45.20 L116.95 45.59 L117.72 45.99 L118.49 46.39 L119.27 46.79 L120.04 47.20 L120.81 47.61 L121.59 48.03 L122.36 48.45 L123.13 48.87 L123.91 49.30 L124.68 49.74 L125.45 50.17 L126.23 50.62 L127.00 51.06 L127.77 51.51 L128.55 51.96 L129.32 52.42 L130.09 52.88 L130.87 53.34 L131.64 53.81 L132.41 54.28 L133.18 54.76 L133.96 55.24 L134.73 55.72 L135.50 56.20 L136.28 56.69 L137.05 57.19 L137.82 57.68 L138.60 58.18 L139.37 58.68 L140.14 59.19 L140.92 59.70 L141.69 60.21 L142.46 60.72 L143.24 61.24 L144.01 61.76 L144.78 62.28 L145.56 62.81 L146.33 63.34 L147.10 63.87 L147.88 64.41 L148.65 64.95 L149.42 65.49 L150.20 66.03 L150.97 66.58 L151.74 67.12 L152.52 67.68 L153.29 68.23 L154.06 68.78 L154.84 69.34 L155.61 69.90 L156.38 70.47 L157.16 71.03 L157.93 71.60 L158.70 72.17 L159.48 72.74 L160.25 73.31 L161.02 73.89 L161.79 74.47 L162.57 75.05 L163.34 75.63 L164.11 76.21 L164.89 76.80 L165.66 77.39 L166.43 77.97 L167.21 78.57 L167.98 79.16 L168.75 79.75 L169.53 80.35 L170.30 80.94 L171.07 81.54 L171.85 82.14 L172.62 82.75 L173.39 83.35 L174.17 83.95 L174.94 84.56 L175.71 85.17 L176.49 85.77 L177.26 86.38 L178.03 86.99 L178.81 87.61 L179.58 88.22 L180.35 88.83 L181.13 89.45 L181.90 90.06 L182.67 90.68 L183.45 91.30 L184.22 91.92 L184.99 92.54 L185.77 93.16 L186.54 93.78 L187.31 94.40 L188.09 95.02 L188.86 95.65 L189.63 96.27 L190.40 96.89 L191.18 97.52 L191.95 98.14 L192.72 98.77 L193.50 99.40 L194.27 100.02 L195.04 100.65 L195.82 101.28 L196.59 101.90 L197.36 102.53 L198.14 103.16 L198.91 103.79 L199.68 104.42 L200.46 105.05 L201.23 105.68 L202.00 106.30 L202.78 106.93 L203.55 107.56 L204.32 108.19 L205.10 108.82 L205.87 109.45 L206.64 110.08 L207.42 110.71 L208.19 111.34 L208.96 111.96 L209.74 112.59 L210.51 113.22 L211.28 113.85 L212.06 114.48 L212.83 115.10 L213.60 115.73 L214.38 116.36 L215.15 116.98 L215.92 117.61 L216.70 118.23 L217.47 118.86 L218.24 119.48 L219.02 120.11 L219.79 120.73 L220.56 121.35 L221.33 121.98 L222.11 122.60 L222.88 123.22 L223.65 123.84 L224.43 124.46 L225.20 125.08 L225.97 125.70 L226.75 126.31 L227.52 126.93 L228.29 127.55 L229.07 128.16 L229.84 128.78 L230.61 129.39 L231.39 130.00 L232.16 130.61 L232.93 131.22 L233.71 131.83 L234.48 132.44 L235.25 133.05 L236.03 133.66 L236.80 134.26 L237.57 134.87 L238.35 135.47 L239.12 136.08 L239.89 136.68 L240.67 137.28 L241.44 137.88 L242.21 138.48 L242.99 139.08 L243.76 139.67 L244.53 140.27 L245.31 140.86 L246.08 141.45 L246.85 142.05 L247.63 142.64 L248.40 143.23 L249.17 143.81 L249.94 144.40 L250.72 144.99 L251.49 145.57 L252.26 146.15 L253.04 146.73 L253.81 147.31 L254.58 147.89 L255.36 148.47 L256.13 149.05 L256.90 149.62 L257.68 150.20 L258.45 150.77 L259.22 151.34 L260.00 151.91 L260.77 152.48 L261.54 153.04 L262.32 153.61 L263.09 154.17 L263.86 154.73 L264.64 155.29 L265.41 155.85 L266.18 156.41 L266.96 156.97 L267.73 157.52 L268.50 158.08 L269.28 158.63 L270.05 159.18 L270.82 159.73 L271.60 160.27 L272.37 160.82 L273.14 161.36 L273.92 161.91 L274.69 162.45 L275.46 162.99 L276.24 163.52 L277.01 164.06 L277.78 164.60 L278.55 165.13 L279.33 165.66 L280.10 166.19 L280.87 166.72 L281.65 167.24 L282.42 167.77 L283.19 168.29 L283.97 168.82 L284.74 169.34 L285.51 169.85 L286.29 170.37 L287.06 170.89 L287.83 171.40 L288.61 171.91 L289.38 172.42 L290.15 172.93 L290.93 173.44 L291.70 173.94 L292.47 174.45 L293.25 174.95 L294.02 175.45 L294.79 175.95 L295.57 176.44 L296.34 176.94 L297.11 177.43 L297.89 177.92 L298.66 178.42 L299.43 178.90 L300.21 179.39 L300.98 179.88 L301.75 180.36 L302.53 180.84 L303.30 181.32 L304.07 181.80 L304.85 182.28 L305.62 182.75 L306.39 183.23 L307.16 183.70 L307.94 184.17 L308.71 184.64 L309.48 185.10 L310.26 185.57 L311.03 186.03 L311.80 186.49 L312.58 186.95 L313.35 187.41 L314.12 187.87 L314.90 188.32 L315.67 188.77 L316.44 189.23 L317.22 189.68 L317.99 190.12 L318.76 190.57 L319.54 191.01 L320.31 191.46 L321.08 191.90 L321.86 192.34 L322.63 192.78 L323.40 193.21 L324.18 193.65 L324.95 194.08 L325.72 194.51 L326.50 194.94 L327.27 195.37 L328.04 195.80 L328.82 196.22 L329.59 196.64 L330.36 197.07 L331.14 197.49 L331.91 197.90 L332.68 198.32 L333.46 198.74 L334.23 199.15 L335.00 199.56 L335.77 199.97 L336.55 200.38 L337.32 200.79 L338.09 201.19 L338.87 201.59 L339.64 202.00 L340.41 202.40 L341.19 202.80 L341.96 203.19 L342.73 203.59 L343.51 203.98 L344.28 204.37 L345.05 204.76 L345.83 205.15 L346.60 205.54 L347.37 205.93 L348.15 206.31 L348.92 206.69 L349.69 207.08 L350.47 207.46 L351.24 207.83 L352.01 208.21 L352.79 208.58 L353.56 208.96 L354.33 209.33 L355.11 209.70 L355.88 210.07 L356.65 210.44 L357.43 210.80 L358.20 211.17 L358.97 211.53 L359.75 211.89 L360.52 212.25 L361.29 212.61 L362.07 212.96 L362.84 213.32 L363.61 213.67 L364.38 214.03 L365.16 214.38 L365.93 214.73 L366.70 215.07 L367.48 215.42 L368.25 215.76 L369.02 216.11 L369.80 216.45" stroke="#800080" stroke-width="2.5" stroke-dasharray="1.100 5.053"/>
</g>
<g stroke="#666666" stroke-width="0.85" fill="none">
<rect x="53.00" y="18.80" width="379.70" height="234.60"/>
<path d="M60.50 253.40 V248.80 M60.50 18.80 V23.40 M78.78 253.40 V250.60 M78.78 18.80 V21.60 M97.06 253.40 V250.60 M97.06 18.80 V21.60 M115.34 253.40 V250.60 M115.34 18.80 V21.60 M133.62 253.40 V248.80 M133.62 18.80 V23.40 M151.90 253.40 V250.60 M151.90 18.80 V21.60 M170.18 253.40 V250.60 M170.18 18.80 V21.60 M188.46 253.40 V250.60 M188.46 18.80 V21.60 M206.74 253.40 V248.80 M206.74 18.80 V23.40 M225.02 253.40 V250.60 M225.02 18.80 V21.60 M243.30 253.40 V250.60 M243.30 18.80 V21.60 M261.58 253.40 V250.60 M261.58 18.80 V21.60 M279.86 253.40 V248.80 M279.86 18.80 V23.40 M298.14 253.40 V250.60 M298.14 18.80 V21.60 M316.42 253.40 V250.60 M316.42 18.80 V21.60 M334.70 253.40 V250.60 M334.70 18.80 V21.60 M352.98 253.40 V248.80 M352.98 18.80 V23.40 M371.26 253.40 V250.60 M371.26 18.80 V21.60 M389.54 253.40 V250.60 M389.54 18.80 V21.60 M407.82 253.40 V250.60 M407.82 18.80 V21.60 M426.10 253.40 V248.80 M426.10 18.80 V23.40 M53.00 251.74 H55.80 M432.70 251.74 H429.90 M53.00 240.82 H55.80 M432.70 240.82 H429.90 M53.00 229.91 H55.80 M432.70 229.91 H429.90 M53.00 219.00 H57.60 M432.70 219.00 H428.10 M53.00 208.09 H55.80 M432.70 208.09 H429.90 M53.00 197.18 H55.80 M432.70 197.18 H429.90 M53.00 186.26 H55.80 M432.70 186.26 H429.90 M53.00 175.35 H57.60 M432.70 175.35 H428.10 M53.00 164.44 H55.80 M432.70 164.44 H429.90 M53.00 153.53 H55.80 M432.70 153.53 H429.90 M53.00 142.61 H55.80 M432.70 142.61 H429.90 M53.00 131.70 H57.60 M432.70 131.70 H428.10 M53.00 120.79 H55.80 M432.70 120.79 H429.90 M53.00 109.88 H55.80 M432.70 109.88 H429.90 M53.00 98.96 H55.80 M432.70 98.96 H429.90 M53.00 88.05 H57.60 M432.70 88.05 H428.10 M53.00 77.14 H55.80 M432.70 77.14 H429.90 M53.00 66.22 H55.80 M432.70 66.22 H429.90 M53.00 55.31 H55.80 M432.70 55.31 H429.90 M53.00 44.40 H57.60 M432.70 44.40 H428.10 M53.00 33.49 H55.80 M432.70 33.49 H429.90 M53.00 22.57 H55.80 M432.70 22.57 H429.90" stroke-width="0.65"/>
</g>
<g font-size="11.5">
<text x="60.50" y="266.30" text-anchor="middle">0</text>
<text x="133.62" y="266.30" text-anchor="middle">2</text>
<text x="206.74" y="266.30" text-anchor="middle">4</text>
<text x="279.86" y="266.30" text-anchor="middle">6</text>
<text x="352.98" y="266.30" text-anchor="middle">8</text>
<text x="426.10" y="266.30" text-anchor="middle">10</text>
<text x="49.60" y="223.30" text-anchor="end">400</text>
<text x="49.60" y="179.65" text-anchor="end">600</text>
<text x="49.60" y="136.00" text-anchor="end">800</text>
<text x="49.60" y="92.35" text-anchor="end">1000</text>
<text x="49.60" y="48.70" text-anchor="end">1200</text>
</g>
<text x="242.7" y="9.8" font-size="13" text-anchor="middle">Density</text>
<text x="242.7" y="285.4" font-size="11" text-anchor="middle">r(Km)</text>
<text transform="translate(12.5 169.2) rotate(-90) scale(1.32 1.04)" font-size="11" font-style="italic">ρ</text>
<text transform="translate(12.5 162.0) rotate(-90)" font-size="10.8">(MeV Fm<tspan font-size="8.6" dy="-5.4">−3</tspan><tspan dy="5.4">)</tspan></text>
<g fill="none" stroke-linecap="square">
<path d="M279.00 34.30 H304.40" stroke="#5a5a5a" stroke-width="0.6"/>
<path d="M282.30 54.60 H304.60" stroke="#0000ff" stroke-width="3.0"/>
<path d="M261.35 81.00 H306.50" stroke="#00ff00" stroke-width="2.4" stroke-dasharray="5 5"/>
<path d="M263.60 107.70 H308.80" stroke="#ff00ff" stroke-width="2.4" stroke-dasharray="1.1 5.12"/>
<path d="M270.20 138.50 H315.30" stroke="#ff8000" stroke-width="2.4" stroke-dasharray="5 5"/>
<path d="M266.95 166.60 H312.50" stroke="#800080" stroke-width="2.4" stroke-dasharray="1.1 5.15"/>
</g>
<g font-size="12.5">
<text x="311.20" y="38.90">4U 1820−30</text>
<text x="313.50" y="59.20">EXO 1785−248</text>
<text x="316.70" y="85.60">Cen X−3</text>
<text x="318.70" y="112.30">PSR J1903+3270</text>
<text x="324.50" y="143.10">Vela X−1</text>
<text x="322.40" y="171.20">PSR J1614−2230</text>
</g>
</svg>
</body></html>
